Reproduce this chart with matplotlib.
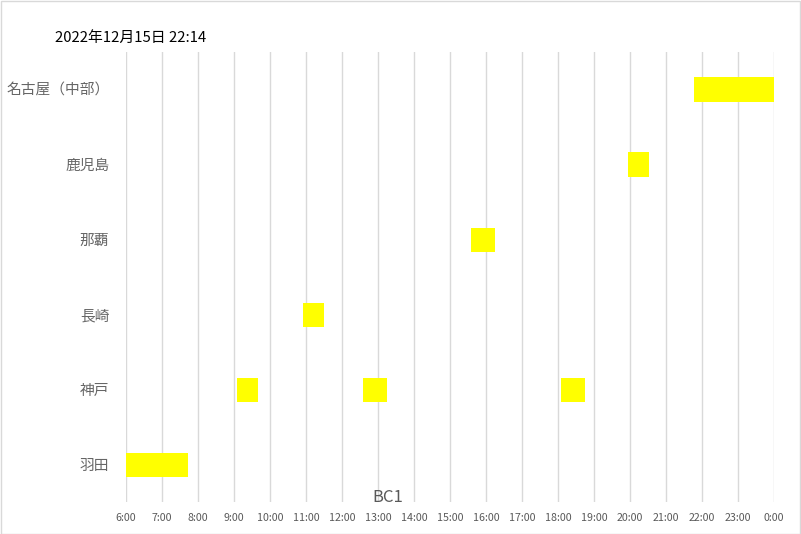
import matplotlib
matplotlib.use("Agg")
import matplotlib.pyplot as plt
from matplotlib.patches import Rectangle

plt.rcParams['font.family'] = ['Noto Sans CJK JP', 'DejaVu Sans']

# categories (bottom to top)
categories = ['羽田', '神戸', '長崎', '那覇', '鹿児島', '名古屋（中部）']

# each bar: category, start, end (hh:mm)
bar_cats = ['羽田', '神戸', '神戸', '神戸', '長崎', '那覇', '鹿児島', '名古屋（中部）']
bar_starts = ['6:00', '9:05', '12:35', '18:05', '10:55', '15:35', '19:57', '21:47']
bar_ends = ['7:43', '9:40', '13:15', '18:45', '11:30', '16:15', '20:32', '24:00']

hour_ticks = list(range(6, 25))
tick_labels = [f"{h % 24}:00" for h in hour_ticks]

title_text = '2022年12月15日 22:14'
axis_title = 'BC1'


def to_hours(s):
    h, m = s.split(':')
    return int(h) + int(m) / 60


def main():
    fig = plt.figure(figsize=(8.01, 5.34), dpi=100)
    W, H = 801, 534
    ax = fig.add_axes([126 / W, (H - 502) / H, (774 - 126) / W, (502 - 52) / H])

    ypos = [categories.index(c) for c in bar_cats]
    starts = [to_hours(s) for s in bar_starts]
    widths = [to_hours(e) - s for s, e in zip(starts, bar_ends)]
    ax.barh(ypos, widths, left=starts, height=0.32, color='#ffff00', zorder=3)

    ax.set_xlim(6, 24)
    ax.set_ylim(-0.5, 5.5)
    ax.set_xticks(hour_ticks)
    ax.set_xticklabels(tick_labels)
    ax.set_yticks(range(len(categories)))
    ax.set_yticklabels(categories)

    ax.grid(axis='x', color='#d9d9d9', linewidth=1.0, zorder=0)
    for sp in ax.spines.values():
        sp.set_visible(False)
    ax.tick_params(axis='x', length=0, labelsize=7.7, labelcolor='#595959', pad=8)
    ax.tick_params(axis='y', length=0, labelsize=10.6, labelcolor='#666666', pad=12)

    fig.text(55 / W, 1 - 38 / H, title_text, fontsize=10.7, color='black', va='center', ha='left')
    fig.text(388 / W, 1 - 497 / H, axis_title, fontsize=12, color='#595959', va='center', ha='center')

    fig.patches.append(Rectangle((0.5 / W, 0.5 / H), 1 - 1.5 / W, 1 - 1.5 / H,
                                 transform=fig.transFigure, fill=False,
                                 edgecolor='#d9d9d9', linewidth=1))

    fig.savefig('out.png', dpi=100, facecolor='white')


if __name__ == '__main__':
    main()
